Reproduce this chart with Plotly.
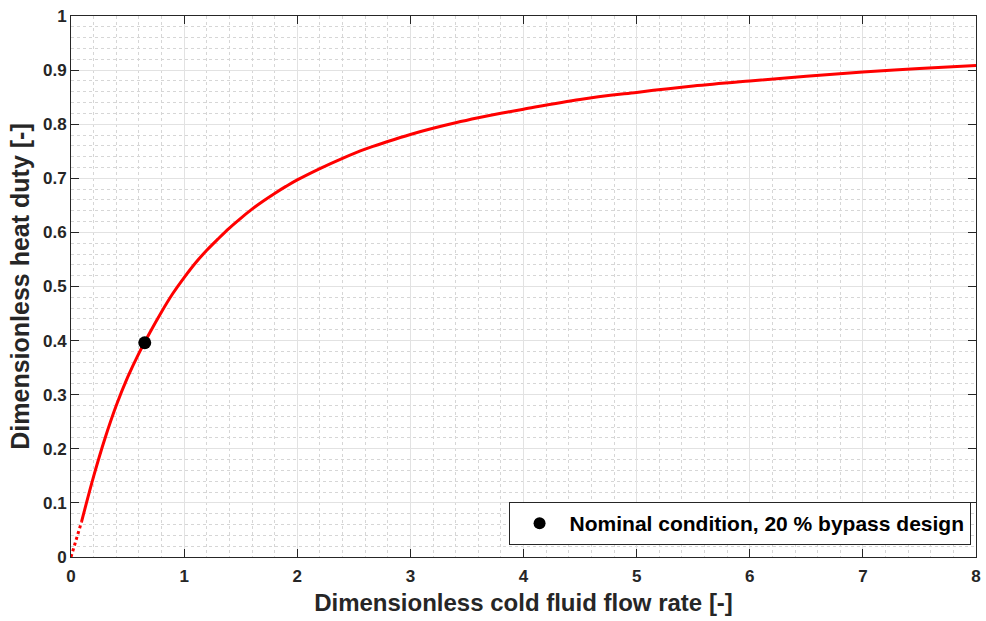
import plotly.graph_objects as go

# Data
dotted_x = [0.0, 0.093]
dotted_y = [0.0, 0.065]

curve_x = [0.093, 0.2, 0.3, 0.4, 0.5, 0.6, 0.7, 0.8, 0.9, 1.0, 1.1, 1.2, 1.3, 1.4,
           1.5, 1.6, 1.7, 1.8, 1.9, 2.0, 2.2, 2.4, 2.6, 2.8, 3.0, 3.2, 3.4, 3.6,
           3.8, 4.0, 4.5, 5.0, 5.5, 6.0, 6.5, 7.0, 7.5, 8.0]
curve_y = [0.065, 0.149, 0.219, 0.280, 0.332, 0.3765, 0.416, 0.453, 0.487, 0.5165,
           0.5435, 0.567, 0.588, 0.608, 0.626, 0.643, 0.658, 0.672, 0.685, 0.697,
           0.718, 0.737, 0.754, 0.768, 0.781, 0.7924, 0.8026, 0.8118, 0.8202, 0.8278,
           0.8458, 0.8588, 0.8705, 0.880, 0.8888, 0.8963, 0.9028, 0.9083]

point_x = [0.652]
point_y = [0.396]
point_label = "Nominal condition, 20 % bypass design"

x_ticks = [0, 1, 2, 3, 4, 5, 6, 7, 8]
y_ticks = [0, 0.1, 0.2, 0.3, 0.4, 0.5, 0.6, 0.7, 0.8, 0.9, 1]
y_tick_text = ["0", "0.1", "0.2", "0.3", "0.4", "0.5", "0.6", "0.7", "0.8", "0.9", "1"]

FONT = "Liberation Sans, Arial, Helvetica, sans-serif"
AX = "#262626"
GRID = "#e2e2e2"
MINOR = "#d6d6d6"

fig = go.Figure()
fig.add_trace(go.Scatter(x=dotted_x, y=dotted_y, mode="lines",
                         line=dict(color="#ff0000", width=3, dash="dot"),
                         showlegend=False, hoverinfo="skip"))
fig.add_trace(go.Scatter(x=curve_x, y=curve_y, mode="lines",
                         line=dict(color="#ff0000", width=3, shape="spline", smoothing=1.0),
                         showlegend=False))
fig.add_trace(go.Scatter(x=point_x, y=point_y, mode="markers",
                         marker=dict(color="black", size=13),
                         name=point_label, showlegend=True))

axis_common = dict(
    showline=True, linecolor=AX, linewidth=1, mirror="ticks",
    ticks="inside", ticklen=8, tickwidth=1, tickcolor=AX,
    showgrid=True, gridcolor=GRID, gridwidth=1,
    zeroline=False,
    tickfont=dict(family=FONT, size=17, color=AX, weight="bold"),
)

fig.update_xaxes(
    range=[0, 8], tickvals=x_ticks, ticktext=[str(v) for v in x_ticks],
    ticklabelstandoff=4,
    minor=dict(dtick=0.2, showgrid=True, gridcolor=MINOR, griddash="dot", gridwidth=1, ticks=""),
    title=dict(text="Dimensionless cold fluid flow rate [-]",
               font=dict(family=FONT, size=24, color=AX, weight="bold"), standoff=8),
    **axis_common)
fig.update_yaxes(
    range=[0, 1], tickvals=y_ticks, ticktext=y_tick_text,
    minor=dict(dtick=0.02, showgrid=True, gridcolor=MINOR, griddash="dot", gridwidth=1, ticks=""),
    title=dict(text="Dimensionless heat duty [-]",
               font=dict(family=FONT, size=25, color=AX, weight="bold"), standoff=6),
    **axis_common)

fig.update_layout(
    width=986, height=621,
    margin=dict(l=71, r=5, t=16, b=64),
    plot_bgcolor="white", paper_bgcolor="white",
    legend=dict(x=0.994, y=0.022, xanchor="right", yanchor="bottom",
                bgcolor="white", bordercolor=AX, borderwidth=1,
                font=dict(family=FONT, size=21, color="black", weight="bold"),
                itemsizing="constant", itemwidth=50, tracegroupgap=0),
)

fig.write_html("out.html")
